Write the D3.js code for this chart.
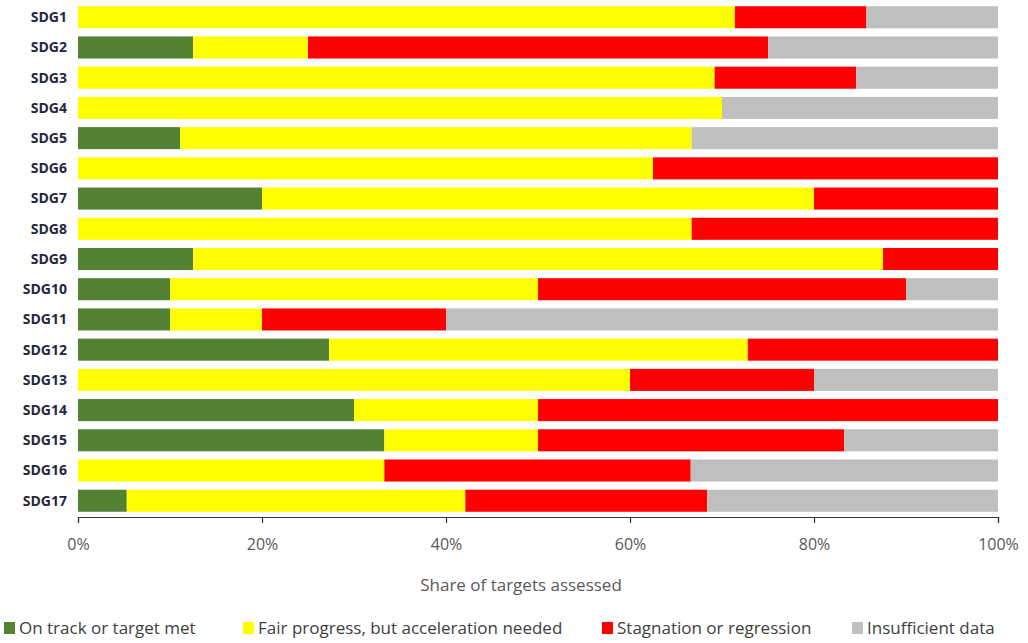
<!DOCTYPE html>
<html lang="en">
<head>
    <meta charset="UTF-8"/>
    <title>SDG progress</title>
    <script src="https://d3js.org/d3.v7.min.js"></script>
    <style>
        body { margin: 0; background: #fff; }
        text { font-family: "Open Sans", "Liberation Sans", sans-serif; }
    </style>
</head>
<body>
<script>
    var goals = ["SDG1","SDG2","SDG3","SDG4","SDG5","SDG6","SDG7","SDG8","SDG9",
                 "SDG10","SDG11","SDG12","SDG13","SDG14","SDG15","SDG16","SDG17"];

    var onTrack     = [0, 12.5, 0, 0, 11.1, 0, 20, 0, 12.5, 10, 10, 27.3, 0, 30, 33.3, 0, 5.3];
    var fairProgress = [71.4, 12.5, 69.2, 70, 55.6, 62.5, 60, 66.7, 75, 40, 10, 45.5, 60, 20, 16.7, 33.3, 36.8];
    var stagnation  = [14.3, 50, 15.4, 0, 0, 37.5, 20, 33.3, 12.5, 40, 20, 27.2, 20, 50, 33.3, 33.3, 26.3];
    var insufficient = [14.3, 25, 15.4, 30, 33.3, 0, 0, 0, 0, 10, 60, 0, 20, 0, 16.7, 33.4, 31.6];

    var seriesNames = ["On track or target met", "Fair progress, but acceleration needed",
                       "Stagnation or regression", "Insufficient data"];
    var colors = ["#548235", "#ffff00", "#ff0000", "#bfbfbf"];
    var tickValues = [0, 20, 40, 60, 80, 100];

    var w = 1028, h = 643;

    var rows = goals.map(function(g, i) {
        return { goal: g, s0: onTrack[i], s1: fairProgress[i], s2: stagnation[i], s3: insufficient[i] };
    });

    var stack = d3.stack().keys(["s0", "s1", "s2", "s3"]);
    var stacked = stack(rows);

    var x = d3.scaleLinear().domain([0, 100]).range([78, 998]);
    var y = d3.scaleBand().domain(goals).range([2, 516]).paddingInner(0.27).paddingOuter(0.14);

    var svg = d3.select("body").append("svg")
        .attr("width", w)
        .attr("height", h);

    svg.selectAll("g.series")
        .data(stacked)
        .enter()
        .append("g")
        .attr("class", "series")
        .attr("fill", function(d, i) { return colors[i]; })
        .selectAll("rect")
        .data(function(d) { return d; })
        .enter()
        .append("rect")
        .attr("x", function(d) { return x(d[0]); })
        .attr("width", function(d) { return Math.max(0, x(d[1]) - x(d[0])); })
        .attr("y", function(d) { return y(d.data.goal); })
        .attr("height", y.bandwidth());

    // category labels
    svg.selectAll("text.goal")
        .data(goals)
        .enter()
        .append("text")
        .attr("class", "goal")
        .attr("x", 67)
        .attr("y", function(d) { return y(d) + y.bandwidth() / 2; })
        .attr("dy", "0.35em")
        .attr("text-anchor", "end")
        .attr("font-size", "14px")
        .attr("font-weight", "bold")
        .attr("fill", "#262640")
        .text(function(d) { return d; });

    // x axis
    var axis = svg.append("g")
        .attr("transform", "translate(0,517)")
        .call(d3.axisBottom(x)
            .tickValues(tickValues)
            .tickSize(6)
            .tickSizeOuter(6)
            .tickFormat(function(d) { return d + "%"; }));

    axis.select(".domain").attr("stroke", "#333").attr("stroke-width", 1.2);
    axis.selectAll(".tick line").attr("stroke", "#333").attr("stroke-width", 1.2);
    axis.selectAll(".tick text")
        .attr("y", 22)
        .attr("font-size", "16px")
        .attr("font-family", "'Open Sans', sans-serif")
        .attr("fill", "#595959");

    svg.append("text")
        .attr("x", 521)
        .attr("y", 591)
        .attr("text-anchor", "middle")
        .attr("font-size", "17px")
        .attr("fill", "#595959")
        .text("Share of targets assessed");

    // legend, items placed where the reference has them
    var legendX = [4, 243, 602, 852];
    var legend = svg.append("g").attr("transform", "translate(0,628)");
    seriesNames.forEach(function(name, i) {
        legend.append("rect")
            .attr("x", legendX[i])
            .attr("y", -6)
            .attr("width", 11)
            .attr("height", 12)
            .attr("fill", colors[i]);
        legend.append("text")
            .attr("x", legendX[i] + 15)
            .attr("y", 0)
            .attr("dy", "0.35em")
            .attr("font-size", "17px")
            .attr("fill", "#404040")
            .text(name);
    });
</script>
</body>
</html>
